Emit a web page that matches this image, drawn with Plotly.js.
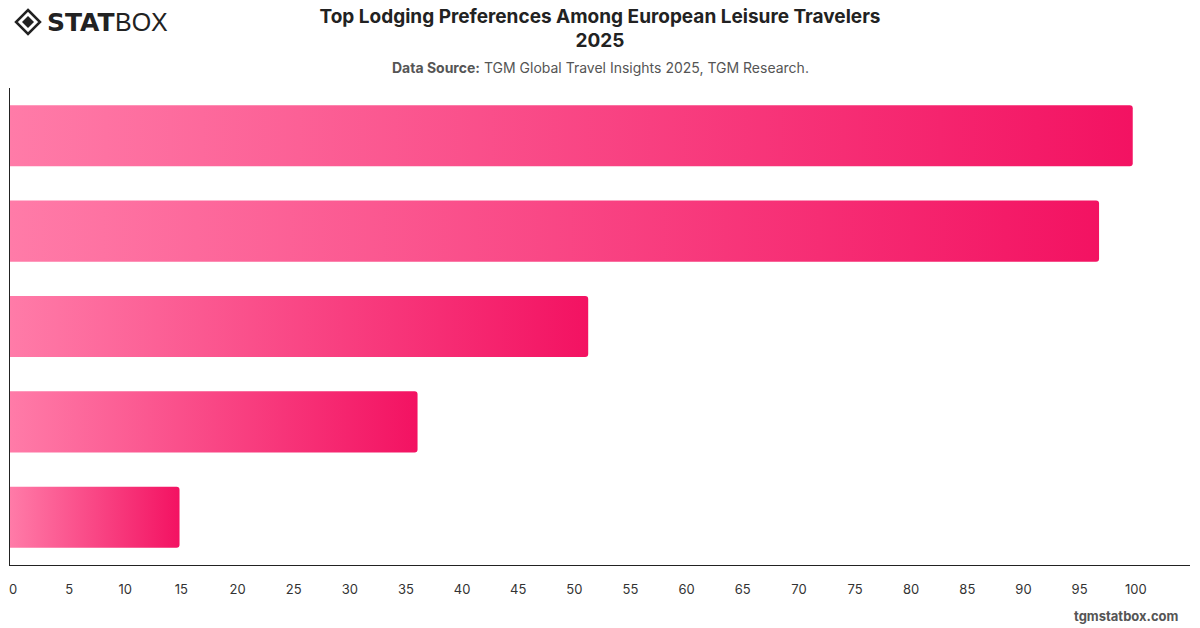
<!DOCTYPE html>
<html>
<head>
<meta charset="utf-8">
<script src="https://cdn.plot.ly/plotly-3.0.1.min.js"></script>
<style>html,body{margin:0;padding:0;background:#fff;}#chart{width:1200px;height:628px;}</style>
</head>
<body>
<div id="chart"></div>
<script>
// Data (top to bottom); category names are not shown in the reference
const categories = ["Category 1", "Category 2", "Category 3", "Category 4", "Category 5"];
const values = [100, 97, 51.5, 36.3, 15.1];
const tickValues = [0, 5, 10, 15, 20, 25, 30, 35, 40, 45, 50, 55, 60, 65, 70, 75, 80, 85, 90, 95, 100];

const W = 1200, H = 628, L = 10, R = 10, T = 88, B = 63;
const px = x => (x - L) / (W - L - R);
const py = y => (H - B - y) / (H - T - B);

const trace = {
  type: 'bar',
  orientation: 'h',
  y: categories,
  x: values,
  marker: {color: '#f7236b', line: {width: 0}},
  hoverinfo: 'x'
};

function diamondPath(cx, cy, r) {
  return `M ${px(cx)} ${py(cy - r)} L ${px(cx + r)} ${py(cy)} L ${px(cx)} ${py(cy + r)} L ${px(cx - r)} ${py(cy)} Z`;
}

const layout = {
  width: W, height: H,
  margin: {l: L, r: R, t: T, b: B},
  paper_bgcolor: '#ffffff',
  plot_bgcolor: '#ffffff',
  font: {family: 'Inter, "Open Sans", sans-serif', color: '#333'},
  bargap: 0.36,
  barcornerradius: 3,
  showlegend: false,
  title: {
    text: '<b>Top Lodging Preferences Among European Leisure Travelers<br>2025</b>',
    x: 0.5, xanchor: 'center', y: 0.964, yanchor: 'top',
    font: {size: 19, color: '#222', family: 'Inter, sans-serif'}
  },
  xaxis: {
    range: [0, 105.1],
    tickvals: tickValues,
    ticktext: tickValues.map(String),
    showgrid: false, zeroline: false,
    showline: true, linecolor: '#222', linewidth: 1,
    ticks: '', ticklabelstandoff: 12, ticklabelshift: 3,
    tickfont: {size: 13, color: '#333'},
    fixedrange: true
  },
  yaxis: {
    categoryorder: 'array',
    categoryarray: categories.slice().reverse(),
    showticklabels: false,
    showgrid: false, zeroline: false,
    showline: true, linecolor: '#222', linewidth: 1,
    ticks: '',
    fixedrange: true
  },
  shapes: [
    {type: 'path', xref: 'paper', yref: 'paper', path: diamondPath(28, 22, 12), line: {color: '#222', width: 2.5}, fillcolor: 'rgba(0,0,0,0)'},
    {type: 'path', xref: 'paper', yref: 'paper', path: diamondPath(28, 22, 6), line: {width: 0}, fillcolor: '#222'}
  ],
  annotations: [
    {xref: 'paper', yref: 'paper', x: px(45), y: py(22), xanchor: 'left', yanchor: 'middle', showarrow: false,
     text: '<b>STAT</b>', font: {size: 25, color: '#222', family: '"DejaVu Sans", sans-serif'}},
    {xref: 'paper', yref: 'paper', x: px(113), y: py(22), xanchor: 'left', yanchor: 'middle', showarrow: false,
     text: 'BOX', font: {size: 25, color: '#222', family: '"Liberation Sans", sans-serif'}},
    {xref: 'paper', yref: 'paper', x: 0.5, y: py(67), xanchor: 'center', yanchor: 'middle', showarrow: false,
     text: '<b>Data Source:</b> TGM Global Travel Insights 2025, TGM Research.', font: {size: 14, color: '#555'}},
    {xref: 'paper', yref: 'paper', x: px(1181), y: py(616), xanchor: 'right', yanchor: 'middle', showarrow: false,
     text: '<b>tgmstatbox.com</b>', font: {size: 13, color: '#555'}}
  ]
};

function applyGradient(gd) {
  const svg = gd.querySelector('svg.main-svg');
  if (!svg) return;
  let defs = svg.querySelector('defs');
  if (!defs) { defs = document.createElementNS('http://www.w3.org/2000/svg', 'defs'); svg.insertBefore(defs, svg.firstChild); }
  if (!svg.querySelector('#barGrad')) {
    const g = document.createElementNS('http://www.w3.org/2000/svg', 'linearGradient');
    g.setAttribute('id', 'barGrad');
    g.setAttribute('x1', '0'); g.setAttribute('y1', '0'); g.setAttribute('x2', '1'); g.setAttribute('y2', '0');
    [['0%', '#ff7ba8'], ['100%', '#f31262']].forEach(([o, c]) => {
      const s = document.createElementNS('http://www.w3.org/2000/svg', 'stop');
      s.setAttribute('offset', o); s.setAttribute('stop-color', c); g.appendChild(s);
    });
    defs.appendChild(g);
  }
  gd.querySelectorAll('.barlayer .point path').forEach(p => {
    p.style.fill = 'url(#barGrad)';
  });
}

const gd = document.getElementById('chart');
Plotly.newPlot(gd, [trace], layout, {displayModeBar: false, staticPlot: true}).then(() => {
  applyGradient(gd);
  gd.on && gd.on('plotly_afterplot', () => applyGradient(gd));
});
</script>
</body>
</html>
